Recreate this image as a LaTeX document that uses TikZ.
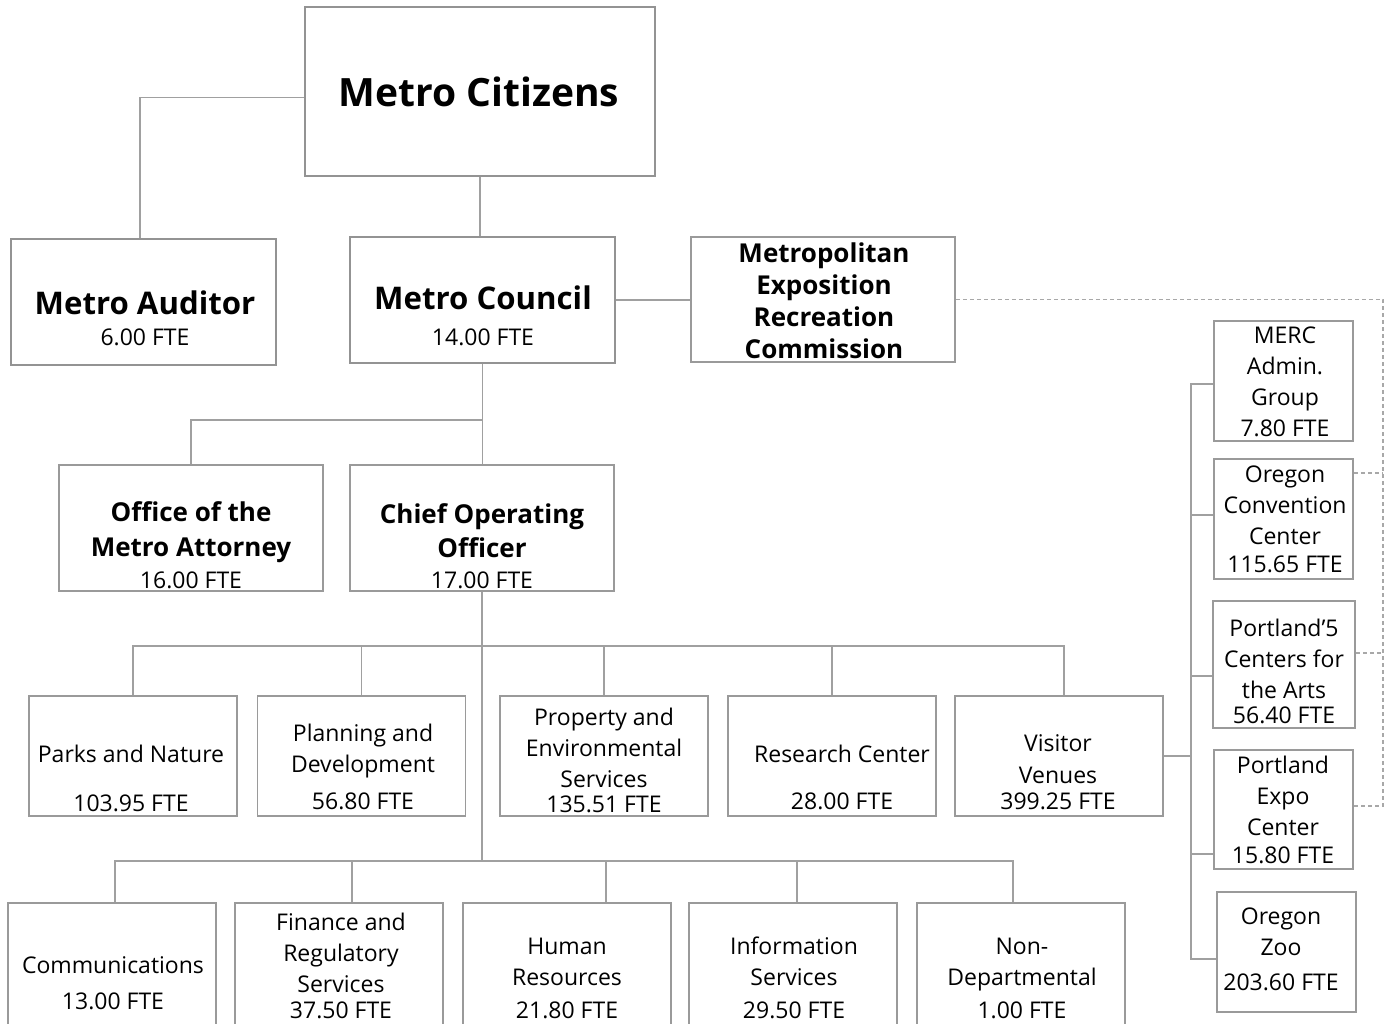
\documentclass[tikz,border=0pt]{standalone}
\usepackage{fontspec}
\setmainfont{Open Sans}
\usepackage{tikz}
\usetikzlibrary{calc, positioning}
\usepackage{xcolor}
\definecolor{linegray}{HTML}{A0A0A0}
\definecolor{boxgray}{HTML}{9A9A9A}
\definecolor{dashgray}{HTML}{A8A8A8}
\newcommand{\ftefont}{\fontsize{11.5}{15.5}\selectfont\mdseries}
\tikzset{
	box/.style={draw=boxgray, line width=0.75pt, inner sep=0pt},
	bigbox/.style={box, line width=1.2pt, draw=gray!85},
	dept/.style={box, minimum width=104pt, minimum height=60pt},
	lowdept/.style={box, minimum width=104pt, minimum height=70pt},
	venue/.style={box, minimum width=69.5pt, minimum height=60pt},
	txt/.style={align=center, inner sep=0pt, font=\ftefont},
	head/.style={align=center, inner sep=0pt, font=\fontsize{13}{16}\selectfont\bfseries},
	conn/.style={draw=linegray, line width=0.7pt},
	dashconn/.style={draw=dashgray, line width=0.6pt, dash pattern=on 2pt off 1.5pt}
}

\begin{document}
\begin{tikzpicture}[x=0.5pt, y=-0.5pt]
	\useasboundingbox (0,0) rectangle (1391,1023);
	% boxes
	\node[bigbox, minimum width=175pt, minimum height=84.5pt] (cit) at (480,91.5) {};
	\node[bigbox, minimum width=132.5pt, minimum height=63pt] (aud) at (143.5,302) {};
	\node[bigbox, minimum width=132.5pt, minimum height=63pt] (coun) at (482.5,300) {};
	\node[box, minimum width=132pt, minimum height=62.5pt] (mercc) at (823,299.5) {};
	\node[box, minimum width=132pt, minimum height=63pt] (att) at (191,528) {};
	\node[box, minimum width=132pt, minimum height=63pt] (coo) at (482,528) {};
	\node[dept] (parks) at (133,756) {};
	\node[dept] (plan) at (361.5,756) {};
	\node[dept] (prop) at (604,756) {};
	\node[dept] (res) at (832,756) {};
	\node[dept] (vis) at (1059,756) {};
	\node[lowdept] (comm) at (112,973) {};
	\node[lowdept] (fin) at (339,973) {};
	\node[lowdept] (hr) at (567,973) {};
	\node[lowdept] (info) at (793,973) {};
	\node[lowdept] (nondep) at (1021,973) {};
	\node[venue] (madm) at (1283.5,381) {};
	\node[venue] (occ) at (1283.5,519) {};
	\node[venue, minimum width=71pt, minimum height=63.5pt] (p5) at (1284,664.5) {};
	\node[venue, minimum height=59.5pt] (expo) at (1283.5,809.5) {};
	\node[venue] (zoo) at (1286.5,952) {};
	% texts
	\node[head, font=\fontsize{19.5}{23}\selectfont\bfseries] (cit-t) at (479,92) {Metro Citizens};
	\node[head, font=\fontsize{15.6}{15.5}\selectfont\bfseries] (aud-t) at (145,318) {Metro Auditor\\{\ftefont 6.00 FTE}};
	\node[head, font=\fontsize{15.6}{18}\selectfont\bfseries] (coun-t) at (483,315.5) {Metro Council\\{\ftefont 14.00 FTE}};
	\node[head] (mercc-t) at (824,301) {Metropolitan\\Exposition\\Recreation\\Commission};
	\node[head] (att-t) at (191,545.5) {Office of the\\[1.5pt]Metro Attorney\\{\ftefont 16.00 FTE}};
	\node[head] (coo-t) at (482,546.5) {Chief Operating\\[1pt]Officer\\[-0.5pt]{\ftefont 17.00 FTE}};
	\node[txt] (parks-t) at (131,778.5) {Parks and Nature\\[9pt]103.95 FTE};
	\node[txt] (plan-t) at (363,766.5) {Planning and\\Development\\[3pt]56.80 FTE};
	\node[txt] (prop-t) at (604,760.5) {Property and\\Environmental\\Services\\[-3pt]135.51 FTE};
	\node[txt] (res-t) at (842,777.5) {Research Center\\[8pt]28.00 FTE};
	\node[txt] (vis-t) at (1058,772) {Visitor\\[0.5pt]Venues\\[-2.5pt]399.25 FTE};
	\node[txt] (comm-t) at (113,983) {Communications\\[2.5pt]13.00 FTE};
	\node[txt] (fin-t) at (341,965.5) {Finance and\\Regulatory\\Services\\[-2.5pt]37.50 FTE};
	\node[txt] (hr-t) at (567,978) {Human\\Resources\\[1pt]21.80 FTE};
	\node[txt] (info-t) at (794,978) {Information\\Services\\[1pt]29.50 FTE};
	\node[txt] (nondep-t) at (1022,978) {Non-\\Departmental\\[1pt]1.00 FTE};
	\node[txt] (madm-t) at (1285,382) {MERC\\Admin.\\Group\\7.80 FTE};
	\node[txt] (occ-t) at (1285,519.5) {Oregon\\Convention\\Center\\[-1.5pt]115.65 FTE};
	\node[txt] (p5-t) at (1284,671.5) {Portland’5\\Centers for\\the Arts\\[-3pt]56.40 FTE};
	\node[txt] (expo-t) at (1283,810) {Portland\\Expo\\Center\\[-1.5pt]15.80 FTE};
	\node[txt] (zoo-t) at (1281,949.5) {Oregon\\Zoo\\[2pt]203.60 FTE};
	% junctions
	\coordinate (j1) at (482,420);
	\coordinate (bar1) at (482,646);
	\coordinate (bar2) at (482,861);
	\coordinate (rv) at (1191,753);
	\coordinate (dv) at (1383,299.5);
	% connectors
	\draw[conn] ([yshift=-3pt]cit.west) -| ([xshift=-1.75pt]aud.north);
	\draw[conn] (cit.south) -- (cit.south |- coun.north);
	\draw[conn] (coun.east) -- (coun.east -| mercc.west);
	\draw[conn] (coun.south) -- (coun.south |- coo.north);
	\draw[conn] (att.north) |- (j1);
	\draw[conn] (coo.south) -- (bar2);
	\draw[conn] (parks.north) |- (bar1) -| ([xshift=2.5pt]vis.north);
	\foreach \n in {plan, prop, res}
		\draw[conn] (\n.north) -- (\n.north |- bar1);
	\draw[conn] ([xshift=1.5pt]comm.north) |- (bar2) -| ([xshift=-4pt]nondep.north);
	\foreach \n/\s in {fin/6.5pt, hr/19.5pt, info/2pt}
		\draw[conn] ([xshift=\s]\n.north) -- ([xshift=\s]\n.north |- bar2);
	\draw[conn] (vis.east) -- (vis.east -| rv);
	\draw[conn] ([yshift=-1.5pt]madm.west) -| (rv) |- ([yshift=-3.5pt]zoo.west);
	\foreach \n/\s in {occ/2pt, p5/-5.75pt, expo/-22.25pt}
		\draw[conn] ([yshift=\s]\n.west) -- ([yshift=\s]\n.west -| rv);
	\draw[dashconn] (mercc.east) -- (dv) |- ([yshift=1.75pt]expo.east);
	\foreach \n/\s in {occ/23pt, p5/5.75pt}
		\draw[dashconn] ([yshift=\s]\n.east) -- ([yshift=\s]\n.east -| dv);
\end{tikzpicture}
\end{document}
